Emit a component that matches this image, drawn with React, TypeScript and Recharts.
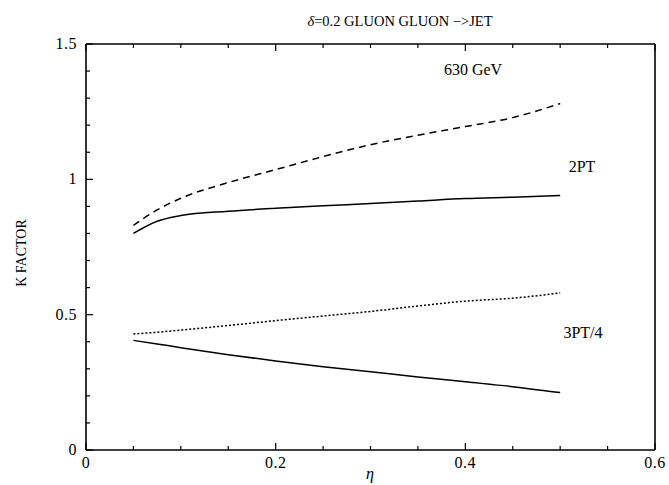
import React from 'react';
import { LineChart, Line, XAxis, YAxis } from 'recharts';

const etaValues = [0.05, 0.075, 0.1, 0.15, 0.2, 0.25, 0.3, 0.35, 0.4, 0.45, 0.5];
const twoPtDashed = [0.83, 0.887, 0.93, 0.988, 1.036, 1.084, 1.128, 1.163, 1.195, 1.228, 1.28];
const twoPtSolid = [0.8, 0.845, 0.866, 0.882, 0.893, 0.902, 0.911, 0.92, 0.929, 0.934, 0.94];
const threePtDotted = [0.429, 0.435, 0.443, 0.46, 0.478, 0.495, 0.512, 0.532, 0.55, 0.561, 0.58];
const threePtSolid = [0.405, 0.392, 0.378, 0.352, 0.329, 0.308, 0.289, 0.27, 0.252, 0.234, 0.212];

const xTicks = [0, 0.05, 0.1, 0.15, 0.2, 0.25, 0.3, 0.35, 0.4, 0.45, 0.5, 0.55, 0.6];
const xMajorTicks = [0, 0.2, 0.4, 0.6];
const xTickLabels = ['0', '0.2', '0.4', '0.6'];
const yTicks = [0, 0.1, 0.2, 0.3, 0.4, 0.5, 0.6, 0.7, 0.8, 0.9, 1, 1.1, 1.2, 1.3, 1.4, 1.5];
const yMajorTicks = [0, 0.5, 1, 1.5];
const yTickLabels = ['0', '0.5', '1', '1.5'];

const data = etaValues.map((eta, i) => ({
  eta,
  dashed: twoPtDashed[i],
  solid2: twoPtSolid[i],
  dotted: threePtDotted[i],
  solid3: threePtSolid[i],
}));

const FONT = '"Liberation Serif", "DejaVu Serif", serif';

const majorIndex = (arr: number[], v: number) => arr.findIndex((m) => Math.abs(m - v) < 1e-6);

const BottomTick = (props: any) => {
  const { x, y, payload } = props;
  const idx = majorIndex(xMajorTicks, payload.value);
  const len = idx >= 0 ? 7 : 4;
  return (
    <g>
      <line x1={x} y1={y} x2={x} y2={y - len} stroke="#000" strokeWidth={1.2} />
      {idx >= 0 && (
        <text x={x} y={y + 18} textAnchor="middle" fontFamily={FONT} fontSize={16} fill="#000" letterSpacing={0.5}>
          {xTickLabels[idx]}
        </text>
      )}
    </g>
  );
};

const TopTick = (props: any) => {
  const { x, y, payload } = props;
  const idx = majorIndex(xMajorTicks, payload.value);
  const len = idx >= 0 ? 7 : 4;
  return <line x1={x} y1={y} x2={x} y2={y + len} stroke="#000" strokeWidth={1.2} />;
};

const LeftTick = (props: any) => {
  const { x, y, payload } = props;
  const idx = majorIndex(yMajorTicks, payload.value);
  const len = idx >= 0 ? 7 : 4;
  return (
    <g>
      <line x1={x} y1={y} x2={x + len} y2={y} stroke="#000" strokeWidth={1.2} />
      {idx >= 0 && (
        <text x={x - 9} y={y + 5} textAnchor="end" fontFamily={FONT} fontSize={16} fill="#000" letterSpacing={0.5}>
          {yTickLabels[idx]}
        </text>
      )}
    </g>
  );
};

const RightTick = (props: any) => {
  const { x, y, payload } = props;
  const idx = majorIndex(yMajorTicks, payload.value);
  const len = idx >= 0 ? 7 : 4;
  return <line x1={x} y1={y} x2={x - len} y2={y} stroke="#000" strokeWidth={1.2} />;
};

const textStyle: React.CSSProperties = {
  position: 'absolute',
  fontFamily: FONT,
  fontSize: 16,
  color: '#000',
  whiteSpace: 'nowrap',
  transform: 'translate(-50%, -50%)',
  lineHeight: 1,
};

export default function App() {
  return (
    <div style={{ position: 'absolute', left: 0, top: 0, width: 669, height: 485, background: '#fff' }}>
      <LineChart width={669} height={485} data={data} margin={{ top: 43, right: 13, bottom: 34, left: 85 }}>
        <XAxis
          xAxisId="b"
          dataKey="eta"
          type="number"
          domain={[0, 0.6]}
          ticks={xTicks}
          interval={0}
          height={1}
          tickSize={0}
          tickMargin={0}
          tick={<BottomTick />}
          axisLine={{ stroke: '#000', strokeWidth: 1.6 }}
          tickLine={false}
        />
        <XAxis
          xAxisId="t"
          orientation="top"
          dataKey="eta"
          type="number"
          domain={[0, 0.6]}
          ticks={xTicks}
          interval={0}
          height={1}
          tickSize={0}
          tickMargin={0}
          tick={<TopTick />}
          axisLine={{ stroke: '#000', strokeWidth: 1.6 }}
          tickLine={false}
        />
        <YAxis
          yAxisId="l"
          type="number"
          domain={[0, 1.5]}
          ticks={yTicks}
          interval={0}
          width={1}
          tickSize={0}
          tickMargin={0}
          tick={<LeftTick />}
          axisLine={{ stroke: '#000', strokeWidth: 1.6 }}
          tickLine={false}
        />
        <YAxis
          yAxisId="r"
          orientation="right"
          type="number"
          domain={[0, 1.5]}
          ticks={yTicks}
          interval={0}
          width={1}
          tickSize={0}
          tickMargin={0}
          tick={<RightTick />}
          axisLine={{ stroke: '#000', strokeWidth: 1.6 }}
          tickLine={false}
        />
        <Line xAxisId="b" yAxisId="l" type="monotone" dataKey="dashed" stroke="#000" strokeWidth={1.5} strokeDasharray="7 5" dot={false} isAnimationActive={false} />
        <Line xAxisId="b" yAxisId="l" type="monotone" dataKey="solid2" stroke="#000" strokeWidth={1.5} dot={false} isAnimationActive={false} />
        <Line xAxisId="b" yAxisId="l" type="monotone" dataKey="dotted" stroke="#000" strokeWidth={1.5} strokeDasharray="2 2" dot={false} isAnimationActive={false} />
        <Line xAxisId="b" yAxisId="l" type="monotone" dataKey="solid3" stroke="#000" strokeWidth={1.5} dot={false} isAnimationActive={false} />
      </LineChart>
      <div style={{ ...textStyle, left: 400, top: 21, fontSize: 14.5 }}>
        <i>δ</i>=0.2 GLUON GLUON −&gt;JET
      </div>
      <div style={{ ...textStyle, left: 473, top: 70 }}>630 GeV</div>
      <div style={{ ...textStyle, left: 582, top: 167 }}>2PT</div>
      <div style={{ ...textStyle, left: 583, top: 333 }}>3PT/4</div>
      <div style={{ ...textStyle, left: 370, top: 474, fontStyle: 'italic', fontSize: 16 }}>η</div>
      <div style={{ ...textStyle, left: 22, top: 253, transform: 'translate(-50%, -50%) rotate(-90deg)', fontSize: 14 }}>
        K FACTOR
      </div>
    </div>
  );
}
